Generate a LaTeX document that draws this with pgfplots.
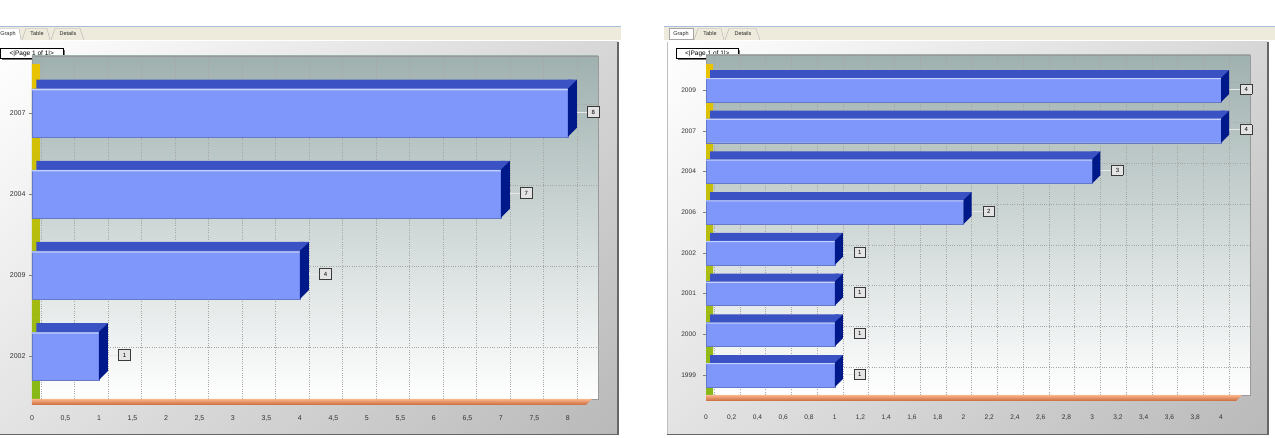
\documentclass[border=0pt]{standalone}
\usepackage{fontspec}
\setmainfont{Liberation Sans}
\usepackage{pgfplots}
\usepackage{pgfplotstable}
\usetikzlibrary{shadings}
\pgfplotsset{compat=1.18}

\definecolor{barfront}{HTML}{7F97FB}
\definecolor{bartop}{HTML}{3A52C4}
\definecolor{barside}{HTML}{00198A}
\definecolor{barhl}{HTML}{C4D0FF}
\definecolor{bgtop}{HTML}{9FB1AF}
\definecolor{bgmid}{HTML}{D3DBDA}
\definecolor{gridc}{HTML}{A6A6A6}
\definecolor{tabbar}{HTML}{EEEBDC}
\definecolor{tabline}{HTML}{A8BCD8}
\definecolor{wallyellow}{HTML}{EAC300}
\definecolor{wallgreen}{HTML}{86B81A}
\definecolor{floortop}{HTML}{F9B58A}
\definecolor{floorbot}{HTML}{C8683A}
\definecolor{boxfill}{HTML}{E4E4E4}
\definecolor{boxline}{HTML}{3A3A3A}
\definecolor{textc}{HTML}{333333}

\pgfplotstableread{
idx val
0 1
1 4
2 7
3 8
}\lefttab
\pgfplotstableread{
idx val
0 1
1 1
2 1
3 1
4 2
5 3
6 4
7 4
}\righttab

% 3D end caps of the bars (top-right triangle + side face), fixed size
\pgfdeclareplotmark{sideL}{%
  \pgfsetfillcolor{bartop}%
  \pgfpathmoveto{\pgfqpoint{0pt}{24pt}}%
  \pgfpathlineto{\pgfqpoint{9pt}{33pt}}%
  \pgfpathlineto{\pgfqpoint{0pt}{33pt}}%
  \pgfpathclose
  \pgfusepath{fill}%
  \pgfsetfillcolor{barside}%
  \pgfpathmoveto{\pgfqpoint{0pt}{-24pt}}%
  \pgfpathlineto{\pgfqpoint{0pt}{24pt}}%
  \pgfpathlineto{\pgfqpoint{9pt}{33pt}}%
  \pgfpathlineto{\pgfqpoint{9pt}{-15pt}}%
  \pgfpathclose
  \pgfusepath{fill}%
}
\pgfdeclareplotmark{sideR}{%
  \pgfsetfillcolor{bartop}%
  \pgfpathmoveto{\pgfqpoint{0pt}{12pt}}%
  \pgfpathlineto{\pgfqpoint{8pt}{20pt}}%
  \pgfpathlineto{\pgfqpoint{0pt}{20pt}}%
  \pgfpathclose
  \pgfusepath{fill}%
  \pgfsetfillcolor{barside}%
  \pgfpathmoveto{\pgfqpoint{0pt}{-12pt}}%
  \pgfpathlineto{\pgfqpoint{0pt}{12pt}}%
  \pgfpathlineto{\pgfqpoint{8pt}{20pt}}%
  \pgfpathlineto{\pgfqpoint{8pt}{-4pt}}%
  \pgfpathclose
  \pgfusepath{fill}%
}

\newcommand\valbox[4]{%
  \textcolor{white!82!gray}{\rule[1.6pt]{#1}{0.9pt}}%
  {\setlength\fboxsep{0pt}\setlength\fboxrule{0.6pt}%
   \fcolorbox{boxline}{boxfill}{\rule[-2.5pt]{0pt}{#3}\makebox[#2]{#4}}}}

\pgfplotsset{
  panelstyle/.style={
    scale only axis, clip=false,
    axis background/.style={top color=bgtop, middle color=bgmid, bottom color=white},
    xmajorgrids, ymajorgrids,
    grid style={dash pattern=on 1pt off 1.3pt, gridc, line width=0.5pt},
    axis line style={draw=gray!80, line width=0.4pt},
    tick label style={font=\fontsize{7}{8}\selectfont, text=textc},
    /pgf/number format/use comma,
    /pgf/number format/assume math mode=true,
    xtick style={draw=none},
    ytick style={draw=gray, line width=0.4pt},
    major tick length=3pt,
    tick align=outside,
    xtick pos=bottom, ytick pos=left,
  },
}

\begin{document}
\begin{tikzpicture}[x=1pt,y=1pt]
\useasboundingbox (0,0) rectangle (1275,438);
\fill[white] (0,0) rectangle (1275,438);

% ---------------- left window ----------------
\fill[tabbar] (0,398) rectangle (621,411);
\draw[tabline, line width=1.2pt] (0,411.4) -- (621,411.4);
\draw[gray!70, fill=white] (-3,398) -- (-3,409.5) -- (19,409.5) -- (21,398);
\node[font=\fontsize{5.5}{6}\selectfont, text=black!85] at (8,404) {Graph};
\draw[gray!60] (22,398) -- (26,409.5) -- (47,409.5) -- (50,398);
\node[font=\fontsize{5.5}{6}\selectfont, text=black!85] at (37,404) {Table};
\draw[gray!60] (51,398) -- (55,409.5) -- (80,409.5) -- (84,398);
\node[font=\fontsize{5.5}{6}\selectfont, text=black!85] at (68,404) {Details};
\shade[upper left=white, upper right=gray!32, lower left=gray!22, lower right=gray!55] (0,3) rectangle (618,396);
\draw[black!60, line width=1.3pt] (618,396) -- (618,3.6) -- (0,3.6);
\fill[black!55] (1.5,378) rectangle (65,388);
\node[draw=black, fill=white, line width=0.5pt, inner sep=0pt, minimum width=63pt, minimum height=10pt,
      font=\fontsize{6.5}{7}\selectfont, anchor=west] at (0,384.5) {<\textbar Page 1 of 1\textbar>};

\begin{axis}[panelstyle,
  at={(32pt,39pt)}, anchor=south west,
  width=566pt, height=343pt,
  xmin=0, xmax=8.45, ymin=-0.53, ymax=3.70,
  xtick={0,0.5,1,1.5,2,2.5,3,3.5,4,4.5,5,5.5,6,6.5,7,7.5,8},
  ytick={0,1,2,3}, yticklabels={2002,2009,2004,2007},
  xticklabel style={yshift=-10pt},
  x grid style={xshift=9pt}, y grid style={yshift=9pt},
]
\shade[top color=wallyellow, bottom color=wallgreen] (rel axis cs:0,0) rectangle ([xshift=8pt,yshift=-9pt]rel axis cs:0,1);
\addplot[xbar, bar width=9pt, bar shift=28.5pt, fill=bartop, draw=none, xshift=4.5pt]
  table[x=val,y=idx]{\lefttab};
\addplot[xbar, bar width=48pt, bar shift=0pt, fill=barfront, draw=barfront!80!black, line width=0.3pt,
  point meta=x,
  nodes near coords={\valbox{10pt}{11.5pt}{10pt}{\pgfmathprintnumber{\pgfplotspointmeta}}},
  every node near coord/.style={anchor=west, inner sep=0pt, xshift=9pt, yshift=1pt, font=\fontsize{6}{7}\selectfont, text=black}]
  table[x=val,y=idx]{\lefttab};
\addplot[xbar, bar width=1.2pt, bar shift=23pt, fill=barhl, draw=none]
  table[x=val,y=idx]{\lefttab};
\addplot[only marks, mark=sideL] table[x=val,y=idx]{\lefttab};
\shade[top color=floortop, bottom color=floorbot]
  (rel axis cs:0,0) -- ([xshift=-6pt]rel axis cs:1,0) -- ([xshift=-12pt,yshift=-6pt]rel axis cs:1,0) -- ([yshift=-6pt]rel axis cs:0,0) -- cycle;
\end{axis}

% ---------------- right window ----------------
\fill[tabbar] (664,398) rectangle (1275,411);
\draw[tabline, line width=1.2pt] (664,411.4) -- (1275,411.4);
\draw[gray!70, fill=white] (669,398.5) rectangle (693,409.5);
\node[font=\fontsize{5.5}{6}\selectfont, text=black!85] at (681,404) {Graph};
\draw[gray!60] (694,398) -- (698,409.5) -- (721,409.5) -- (724,398);
\node[font=\fontsize{5.5}{6}\selectfont, text=black!85] at (710,404) {Table};
\draw[gray!60] (725,398) -- (729,409.5) -- (756,409.5) -- (760,398);
\node[font=\fontsize{5.5}{6}\selectfont, text=black!85] at (743,404) {Details};
\shade[upper left=white, upper right=gray!32, lower left=gray!22, lower right=gray!55] (667,3) rectangle (1268,396);
\draw[gray!50, line width=0.8pt] (667.4,396) -- (667.4,3.6);
\draw[black!60, line width=1.3pt] (1268,396) -- (1268,3.6) -- (667,3.6);
\fill[black!55] (677.5,378) rectangle (740,388);
\node[draw=black, fill=white, line width=0.5pt, inner sep=0pt, minimum width=62pt, minimum height=10pt,
      font=\fontsize{6.5}{7}\selectfont, anchor=west] at (676,384.5) {<\textbar Page 1 of 1\textbar>};

\begin{axis}[panelstyle,
  at={(706pt,43pt)}, anchor=south west,
  width=544pt, height=340pt,
  xmin=0, xmax=4.225, ymin=-0.49, ymax=7.86,
  xtick={0,0.2,0.4,0.6,0.8,1,1.2,1.4,1.6,1.8,2,2.2,2.4,2.6,2.8,3,3.2,3.4,3.6,3.8,4},
  ytick={0,1,2,3,4,5,6,7}, yticklabels={1999,2000,2001,2002,2006,2004,2007,2009},
  tick label style={font=\fontsize{6.6}{7.5}\selectfont},
  xticklabel style={yshift=-13pt},
  yticklabel style={xshift=-3.5pt},
  x grid style={xshift=8pt}, y grid style={yshift=8pt},
]
\shade[top color=wallyellow, bottom color=wallgreen] (rel axis cs:0,0) rectangle ([xshift=7pt,yshift=-10pt]rel axis cs:0,1);
\addplot[xbar, bar width=8pt, bar shift=16pt, fill=bartop, draw=none, xshift=4pt]
  table[x=val,y=idx]{\righttab};
\addplot[xbar, bar width=24pt, bar shift=0pt, fill=barfront, draw=barfront!80!black, line width=0.3pt,
  point meta=x,
  nodes near coords={\valbox{11pt}{10.8pt}{9.4pt}{\pgfmathprintnumber{\pgfplotspointmeta}}},
  every node near coord/.style={anchor=west, inner sep=0pt, xshift=8pt, yshift=1pt, font=\fontsize{6}{7}\selectfont, text=black}]
  table[x=val,y=idx]{\righttab};
\addplot[xbar, bar width=1pt, bar shift=11.3pt, fill=barhl, draw=none]
  table[x=val,y=idx]{\righttab};
\addplot[only marks, mark=sideR] table[x=val,y=idx]{\righttab};
\shade[top color=floortop, bottom color=floorbot]
  (rel axis cs:0,0) -- ([xshift=-8pt]rel axis cs:1,0) -- ([xshift=-14pt,yshift=-6pt]rel axis cs:1,0) -- ([yshift=-6pt]rel axis cs:0,0) -- cycle;
\end{axis}
\end{tikzpicture}
\end{document}
